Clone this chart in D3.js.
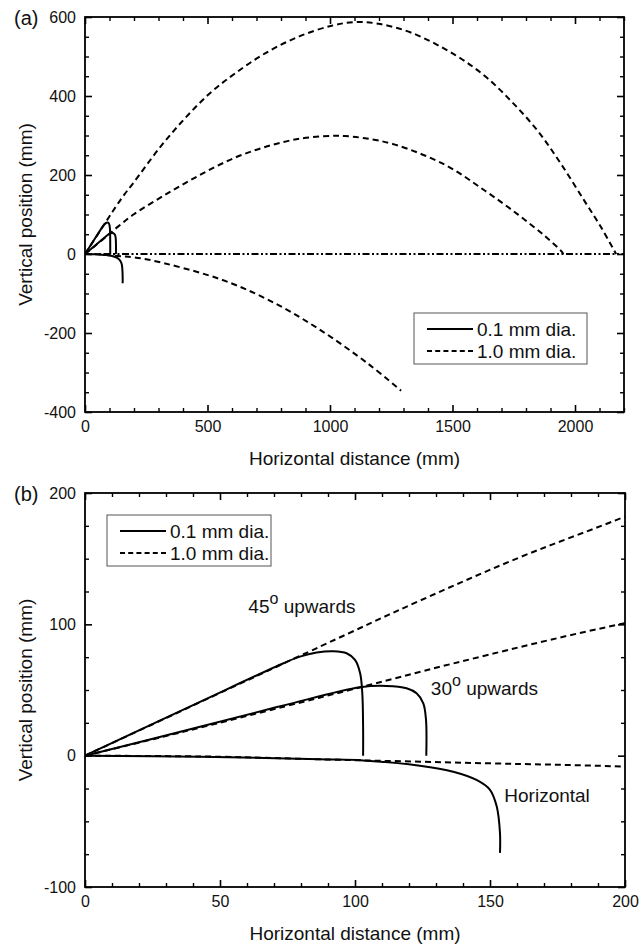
<!DOCTYPE html>
<html>
<head>
<meta charset="utf-8">
<script src="https://cdn.jsdelivr.net/npm/d3@7"></script>
<style>
  body { margin: 0; background: #fff; }
  svg { display: block; font-family: 'Liberation Sans', Arial, sans-serif; }
</style>
</head>
<body>
<svg id="chart" width="643" height="947"></svg>
<script>
// tick values
const xTicksA = [0, 500, 1000, 1500, 2000]
const yTicksA = [-400, -200, 0, 200, 400, 600]
const xTicksB = [0, 50, 100, 150, 200]
const yTicksB = [-100, 0, 100, 200]
const legendLabels = ['0.1 mm dia.', '1.0 mm dia.']

// 0.1 mm droplets (solid), [horizontal distance, vertical position] in mm
const fine45 = [[0, 0], [42.6, 41], [73.5, 70.4], [79.6, 75.4], [85.8, 78.5], [92, 79.5], [96.9, 78],
  [100, 72.9], [101.9, 62.8], [102.7, 47.5], [103, 22], [103, 0]]
const fine30 = [[0, 0], [42.6, 22], [74, 38.5], [101.9, 52.1], [111.7, 53.1], [119.1, 51.3], [122.8, 47.5],
  [125.3, 39.9], [126.3, 27.2], [126.4, 0]]
const fineHoriz = [[0, 0], [42.6, -0.8], [87, -2.8], [103, -3.6], [124, -7.6], [136.4, -12.2], [145, -18.5],
  [150, -26], [152.5, -38.8], [153.7, -59], [153.7, -74]]

// 1.0 mm droplets (dashed)
const coarse45 = [[0, 0], [87, 83], [124, 118], [161, 151], [200, 182], [306, 270], [408, 343.5], [510, 407],
  [612, 457], [735, 508], [871, 550], [1007, 578], [1100, 587], [1197, 583], [1333, 560], [1510, 504],
  [1633, 450], [1741, 386], [1850, 310], [1946, 225], [2041, 132], [2109, 65], [2168, 0]]
const coarse30 = [[0, 0], [37, 18.5], [74, 37.5], [99, 50.5], [136, 70], [198, 100], [333, 152], [469, 200],
  [605, 242], [741, 272], [877, 292], [1007, 299], [1061, 298.5], [1143, 293], [1265, 277], [1469, 226],
  [1633, 160], [1769, 99], [1878, 45], [1946, 6], [1952, 0]]
const coarseHoriz = [[0, 0], [50, -0.8], [87, -2.8], [149, -5.8], [200, -8.4], [272, -16], [544, -62],
  [748, -116], [952, -189], [1156, -278], [1290, -346]]

const groundLine = [[0, 0], [2200, 0]]

// text labels in panel (b), anchored in data units
const annotationsB = [
  { x: 60.5, y: 108.5, deg: '45', rest: ' upwards' },
  { x: 128.1, y: 46.2, deg: '30', rest: ' upwards' },
  { x: 155.3, y: -35, deg: null, rest: 'Horizontal' },
]

const svg = d3.select('#chart')
const FONT = "'Liberation Sans', Arial, sans-serif"
const DASH = '6,4'

const lineGen = (x, y) => d3.line()
  .x(d => x(d[0]))
  .y(d => y(d[1]))
  .curve(d3.curveCatmullRom.alpha(0.5))

function renderAxes(g, x, y, box, xMajor, xStep, yMajor, yStep) {
  const xMinor = d3.range(x.domain()[0], x.domain()[1] + 1e-9, xStep).filter(v => !xMajor.includes(v))
  const yMinor = d3.range(y.domain()[0], y.domain()[1] + 1e-9, yStep).filter(v => !yMajor.includes(v))
  const sides = [
    { make: d3.axisBottom, scale: x, at: `translate(0,${box.bottom})`, major: xMajor, minor: xMinor, labels: true },
    { make: d3.axisTop, scale: x, at: `translate(0,${box.top})`, major: xMajor, minor: xMinor, labels: false },
    { make: d3.axisLeft, scale: y, at: `translate(${box.left},0)`, major: yMajor, minor: yMinor, labels: true },
    { make: d3.axisRight, scale: y, at: `translate(${box.right},0)`, major: yMajor, minor: yMinor, labels: false },
  ]
  sides.forEach(s => {
    g.append('g')
      .attr('transform', s.at)
      .call(s.make(s.scale).tickValues(s.major).tickSizeInner(-7).tickSizeOuter(0).tickPadding(9)
        .tickFormat(s.labels ? d => String(d) : ''))
      .attr('font-family', FONT)
      .attr('font-size', 16)
      .call(a => a.select('.domain').remove())
      .call(a => a.selectAll('line').attr('stroke', '#000').attr('stroke-width', 1.6))
      .call(a => a.selectAll('text').attr('fill', '#111'))

    g.append('g')
      .attr('transform', s.at)
      .call(s.make(s.scale).tickValues(s.minor).tickSize(-4).tickFormat(''))
      .call(a => a.select('.domain').remove())
      .call(a => a.selectAll('line').attr('stroke', '#000').attr('stroke-width', 1.4))
  })

  // frame
  g.append('rect')
    .attr('x', box.left)
    .attr('y', box.top)
    .attr('width', box.right - box.left)
    .attr('height', box.bottom - box.top)
    .attr('fill', 'none')
    .attr('stroke', '#000')
    .attr('stroke-width', 1.8)
}

function renderTitles(g, box, tag) {
  g.append('text')
    .attr('x', (box.left + box.right) / 2)
    .attr('y', box.bottom + 53)
    .attr('text-anchor', 'middle')
    .attr('font-size', 19)
    .attr('fill', '#111')
    .text('Horizontal distance (mm)')

  g.append('text')
    .attr('transform', `translate(32,${(box.top + box.bottom) / 2}) rotate(-90)`)
    .attr('text-anchor', 'middle')
    .attr('font-size', 19)
    .attr('fill', '#111')
    .text('Vertical position (mm)')

  g.append('text')
    .attr('x', 14)
    .attr('y', box.top + 8)
    .attr('font-size', 20)
    .attr('fill', '#111')
    .text(tag)
}

function renderLegend(g, lx, ly, w) {
  const lg = g.append('g').attr('transform', `translate(${lx},${ly})`)
  lg.append('rect')
    .attr('width', w)
    .attr('height', 51)
    .attr('fill', '#fff')
    .attr('stroke', '#555')
    .attr('stroke-width', 1)
  legendLabels.forEach((label, i) => {
    const yy = 16 + i * 22
    lg.append('line')
      .attr('x1', 13).attr('x2', 59)
      .attr('y1', yy).attr('y2', yy)
      .attr('stroke', '#000')
      .attr('stroke-width', 2)
      .attr('stroke-dasharray', i === 0 ? null : '5,3.2')
    lg.append('text')
      .attr('x', 63)
      .attr('y', yy + 6.5)
      .attr('font-size', 19)
      .attr('fill', '#111')
      .text(label)
  })
}

function renderSeries(g, x, y, clipId) {
  const line = lineGen(x, y)
  const plot = g.append('g').attr('clip-path', `url(#${clipId})`)
  ;[coarse45, coarse30, coarseHoriz].forEach(d => {
    plot.append('path')
      .datum(d)
      .attr('d', line)
      .attr('fill', 'none')
      .attr('stroke', '#000')
      .attr('stroke-width', 2)
      .attr('stroke-dasharray', DASH)
  })
  ;[fine45, fine30, fineHoriz].forEach(d => {
    plot.append('path')
      .datum(d)
      .attr('d', line)
      .attr('fill', 'none')
      .attr('stroke', '#000')
      .attr('stroke-width', 2)
  })
  return plot
}

function addClip(id, box) {
  svg.append('defs').append('clipPath')
    .attr('id', id)
    .append('rect')
    .attr('x', box.left)
    .attr('y', box.top)
    .attr('width', box.right - box.left)
    .attr('height', box.bottom - box.top)
}

// ---- panel (a)
const boxA = { left: 85, right: 624, top: 17, bottom: 412 }
const xA = d3.scaleLinear().domain([0, 2200]).range([boxA.left, boxA.right])
const yA = d3.scaleLinear().domain([-400, 600]).range([boxA.bottom, boxA.top])
const gA = svg.append('g').attr('font-family', FONT)
addClip('clipA', boxA)
const plotA = renderSeries(gA, xA, yA, 'clipA')
plotA.append('path')
  .datum(groundLine)
  .attr('d', d3.line().x(d => xA(d[0])).y(d => yA(d[1])))
  .attr('fill', 'none')
  .attr('stroke', '#000')
  .attr('stroke-width', 1.8)
  .attr('stroke-dasharray', '7,2.5,2,2.5,2,2.5')
renderAxes(gA, xA, yA, boxA, xTicksA, 100, yTicksA, 50)
renderTitles(gA, boxA, '(a)')
renderLegend(gA, 414, 313, 173)

// ---- panel (b)
const boxB = { left: 85, right: 625, top: 493, bottom: 887 }
const xB = d3.scaleLinear().domain([0, 200]).range([boxB.left, boxB.right])
const yB = d3.scaleLinear().domain([-100, 200]).range([boxB.bottom, boxB.top])
const gB = svg.append('g').attr('font-family', FONT)
addClip('clipB', boxB)
renderSeries(gB, xB, yB, 'clipB')
renderAxes(gB, xB, yB, boxB, xTicksB, 10, yTicksB, 25)
renderTitles(gB, boxB, '(b)')
renderLegend(gB, 107, 515, 164)

annotationsB.forEach(a => {
  const t = gB.append('text')
    .attr('x', xB(a.x))
    .attr('y', yB(a.y))
    .attr('font-size', 19)
    .attr('fill', '#111')
  if (a.deg) {
    t.append('tspan').text(a.deg)
    t.append('tspan').attr('dy', -9).attr('font-size', 16).text('o')
    t.append('tspan').attr('dy', 9).text(a.rest)
  } else {
    t.text(a.rest)
  }
})
</script>
</body>
</html>
